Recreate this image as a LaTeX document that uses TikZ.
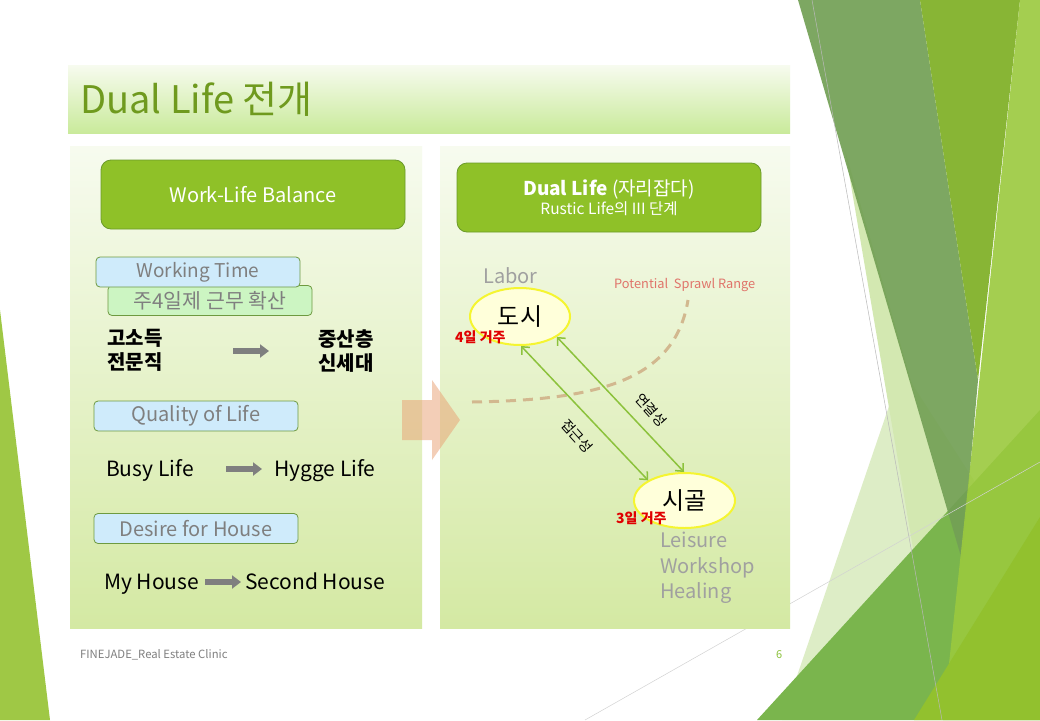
\documentclass[tikz,border=0pt]{standalone}
\usepackage{fontspec}
\setmainfont{Noto Sans CJK KR}
\usetikzlibrary{shapes.geometric,arrows.meta}
\definecolor{boxgreen}{HTML}{8FC128}
\definecolor{boxedge}{HTML}{6B9A2A}
\definecolor{tagblue}{HTML}{CFEBFB}
\definecolor{taglgreen}{HTML}{CCF5C2}
\definecolor{tagedge}{HTML}{6E9A40}
\definecolor{taggray}{HTML}{7F7F7F}
\definecolor{titlegreen}{HTML}{6F9A1E}
\definecolor{panelTop}{HTML}{F7FBEF}
\definecolor{panelBot}{HTML}{D4E9A3}
\definecolor{ellfill}{HTML}{FFFFDA}
\definecolor{elledge}{HTML}{F5F530}
\definecolor{linkgreen}{HTML}{8CC23C}
\definecolor{sprawl}{HTML}{D2B88F}
\definecolor{sprawltext}{HTML}{E0746A}
\definecolor{softgray}{HTML}{A0A0A0}
\definecolor{livred}{HTML}{E00000}
\definecolor{darkband}{HTML}{73A055}
\definecolor{medband}{HTML}{88B535}
\definecolor{lightband}{HTML}{9BC93E}
\definecolor{bottomgreen}{HTML}{7AB54D}
\definecolor{brightgreen}{HTML}{92C12E}
\definecolor{palegreen}{HTML}{DDEDC6}
\definecolor{leftgreen}{HTML}{9FC845}
\definecolor{tanarrow}{HTML}{E99F71}
\begin{document}
\begin{tikzpicture}[x=1pt,y=-1pt,
  greenbox/.style={draw=boxedge, fill=boxgreen, rounded corners=10pt, line width=0.8pt, text=white, minimum width=304pt, minimum height=69pt, align=center, inner sep=0pt},
  tagbox/.style={draw=tagedge, rounded corners=4pt, line width=0.8pt, text=taggray, minimum width=204pt, minimum height=30pt, inner sep=0pt, font=\fontsize{20}{22}\selectfont},
  bluetag/.style={tagbox, fill=tagblue},
  greentag/.style={tagbox, fill=taglgreen},
  blacktext/.style={inner sep=0pt, anchor=base west, text=black, font=\fontsize{21}{25}\selectfont},
  boldkr/.style={inner sep=0pt, anchor=north west, text=black, align=left, font=\fontsize{20}{24}\selectfont\bfseries},
  grayarrow/.style={line width=5.5pt, draw=taggray, -{Triangle[length=9pt,width=13pt]}},
  town/.style={ellipse, draw=elledge, line width=2pt, fill=ellfill, inner sep=0pt, font=\fontsize{24}{28}\selectfont},
  stay/.style={inner sep=0pt, anchor=base west, text=livred, font=\fontsize{14}{16}\selectfont\bfseries},
  link/.style={draw=linkgreen, line width=1.5pt, {Straight Barb[length=6pt,width=11pt]}-{Straight Barb[length=6pt,width=11pt]}},
  linklabel/.style={inner sep=0pt, text=black, rotate=-48, font=\fontsize{14}{16}\selectfont},
  softlabel/.style={inner sep=0pt, anchor=base west, text=softgray, font=\fontsize{20}{25.5}\selectfont}
]
\useasboundingbox (0,0) rectangle (1040,720);
\fill[white] (0,0) rectangle (1040,720);

% ---- decorative background shapes ----
\fill[leftgreen] (0,310) -- (50,720) -- (0,720) -- cycle;
\fill[palegreen] (782,720) -- (902,368) -- (975,482) -- (870,720) -- cycle;
\fill[palegreen!85!lightband] (845,150) -- (962,560) -- (915,560) -- cycle;
\fill[bottomgreen] (757,720) -- (967,490) -- (1040,410) -- (1040,720) -- cycle;
\fill[darkband, opacity=0.92] (798,0) -- (920,0) -- (978,380) -- (962,560) -- cycle;
\fill[medband] (920,0) -- (1020,0) -- (978,380) -- cycle;
\fill[lightband, opacity=0.9] (1020,0) -- (1040,0) -- (1040,720) -- (943,720) -- cycle;
\fill[brightgreen] (914,720) -- (1040,517) -- (1040,720) -- cycle;
\draw[gray!55, line width=0.5pt] (812,0) -- (942,720);
\draw[gray!35, line width=0.5pt] (585,720) -- (1040,462);

% ---- title bar and panels ----
\shade[top color=panelTop, bottom color=panelBot!95!green] (68,65) rectangle (790,133);
\node[inner sep=0pt, anchor=base west, text=titlegreen, font=\fontsize{38}{40}\selectfont] (title) at (80,113) {Dual Life 전개};
\shade[top color=panelTop, bottom color=panelBot] (70,146) rectangle (422,628);
\shade[top color=panelTop, bottom color=panelBot] (440,146) rectangle (790,628);

% ---- left panel ----
\node[greenbox, font=\fontsize{20}{22}\selectfont] (wlb) at (253,194.5) {Work-Life Balance};
\node[greentag, font=\fontsize{20.5}{22}\selectfont] (four) at (210,300.5) {주4일제 근무 확산};
\node[bluetag, font=\fontsize{19}{21}\selectfont] (wtime) at (198,272) {Working Time};
\node[boldkr] (high) at (107,329) {고소득\\전문직};
\node[boldkr] (mid) at (318,329) {중산층\\신세대};
\coordinate (a1s) at (233,351);
\coordinate (a1e) at (269,351);
\draw[grayarrow] (a1s) -- (a1e);

\node[bluetag] (qol) at (196,416) {Quality of Life};
\node[blacktext] (busy) at (106,476) {Busy Life};
\node[blacktext] (hygge) at (274,476) {Hygge Life};
\coordinate (a2s) at (226,469);
\coordinate (a2e) at (262,469);
\draw[grayarrow] (a2s) -- (a2e);

\node[bluetag] (desire) at (196,528.5) {Desire for House};
\node[blacktext] (myhouse) at (104,589) {My House};
\node[blacktext] (second) at (245,589) {Second House};
\coordinate (a3s) at (205,582);
\coordinate (a3e) at (241,582);
\draw[grayarrow] (a3s) -- (a3e);

% ---- transition arrow ----
\fill[tanarrow, opacity=0.5] (402,400) -- (432,400) -- (432,380) -- (460,420) -- (432,460) -- (432,440) -- (402,440) -- cycle;

% ---- right panel ----
\node[greenbox] (dual) at (609,197.5) {{\fontsize{19}{23}\selectfont\bfseries Dual Life \mdseries(자리잡다)}\\[1pt]{\fontsize{15.5}{17}\selectfont Rustic Life의 III 단계}};

\draw[sprawl, line width=3pt, dash pattern=on 10pt off 7pt] (472,402) .. controls (600,400) and (675,380) .. (688,300);
\node[softlabel] (labor) at (483,283) {Labor};
\node[inner sep=0pt, anchor=base west, text=sprawltext, font=\fontsize{12.8}{14}\selectfont] (sprawllbl) at (614,288) {Potential\ \ Sprawl Range};

\node[town, minimum width=100pt, minimum height=57pt] (dosi) at (520,316.5) {도시};
\node[town, minimum width=101pt, minimum height=55pt] (sigol) at (684.5,500.5) {시골};
\node[stay] (four2) at (455,342) {4일 거주};
\node[stay] (three) at (616,523) {3일 거주};

\draw[link] (dosi.-88) -- (sigol.151);
\draw[link] (dosi.-29) -- (sigol.91);
\node[linklabel] (access) at (577,436) {접근성};
\node[linklabel] (connect) at (651,410) {연결성};

\node[softlabel, align=left, anchor=north west] (leisure) at (660,532) {Leisure\\Workshop\\Healing};

% ---- footer ----
\node[inner sep=0pt, anchor=base west, text=taggray, font=\fontsize{11.3}{13}\selectfont] (footer) at (80,658) {FINEJADE\_Real Estate Clinic};
\node[inner sep=0pt, anchor=base west, text=linkgreen, font=\fontsize{11}{13}\selectfont] (pageno) at (776,658) {6};
\end{tikzpicture}
\end{document}
